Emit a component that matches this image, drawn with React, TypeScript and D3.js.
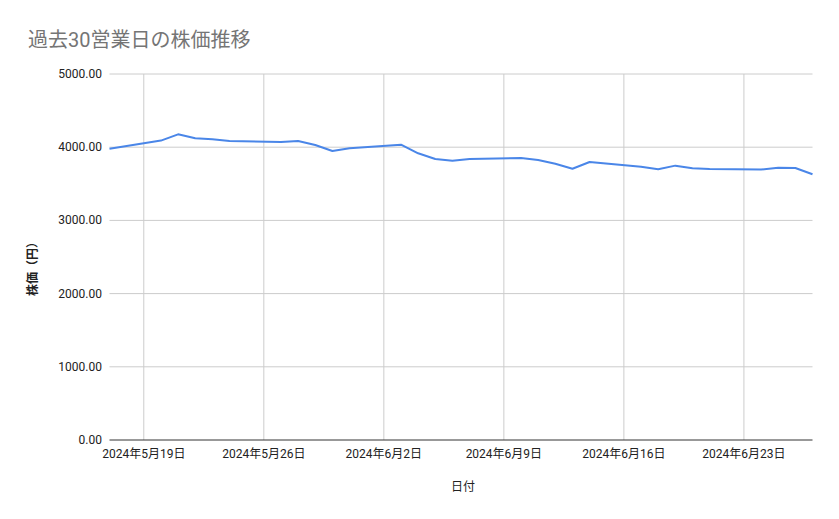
import React from "react";
import * as d3 from "d3";

const dates: string[] = [
  "2024-05-17", "2024-05-20", "2024-05-21", "2024-05-22", "2024-05-23", "2024-05-24",
  "2024-05-27", "2024-05-28", "2024-05-29", "2024-05-30", "2024-05-31",
  "2024-06-03", "2024-06-04", "2024-06-05", "2024-06-06", "2024-06-07",
  "2024-06-10", "2024-06-11", "2024-06-12", "2024-06-13", "2024-06-14",
  "2024-06-17", "2024-06-18", "2024-06-19", "2024-06-20", "2024-06-21",
  "2024-06-24", "2024-06-25", "2024-06-26", "2024-06-27",
];
const prices: number[] = [
  3980, 4090, 4176, 4121, 4108, 4085,
  4071, 4085, 4030, 3948, 3985,
  4035, 3917, 3839, 3816, 3840,
  3852, 3825, 3775, 3706, 3798,
  3734, 3698, 3748, 3712, 3702,
  3695, 3720, 3716, 3630,
];
const yTicks: number[] = [0, 1000, 2000, 3000, 4000, 5000];
const xTickDates: string[] = ["2024-05-19", "2024-05-26", "2024-06-02", "2024-06-09", "2024-06-16", "2024-06-23"];

const W = 839, H = 519;
const left = 109.5, right = 812.5, top = 74, bottom = 440;
const font = "Roboto, 'Noto Sans CJK JP', Arial, sans-serif";

export default function App() {
  const parse = d3.utcParse("%Y-%m-%d");
  const data = dates.map((d, i) => ({ date: parse(d)!, v: prices[i] }));
  const x = d3.scaleUtc().domain([parse(dates[0])!, parse(dates[dates.length - 1])!]).range([left, right]);
  const y = d3.scaleLinear().domain([0, 5000]).range([bottom, top]);
  const line = d3.line<{ date: Date; v: number }>().x((d) => x(d.date)).y((d) => y(d.v));
  const fmt = (d: Date) => `${d.getUTCFullYear()}年${d.getUTCMonth() + 1}月${d.getUTCDate()}日`;

  return (
    <svg width={W} height={H} style={{ position: "absolute", left: 0, top: 0, background: "#fff" }} fontFamily={font}>
      <rect width={W} height={H} fill="#fff" />
      <text x={28} y={47} fontSize={20} fill="#757575">過去30営業日の株価推移</text>
      {yTicks.map((t) => (
        <g key={t}>
          {t > 0 && <line x1={left} x2={right} y1={y(t)} y2={y(t)} stroke="#cccccc" strokeWidth={1} />}
          <text x={102} y={y(t) + 4} fontSize={12} fill="#222" textAnchor="end">{t.toFixed(2)}</text>
        </g>
      ))}
      {xTickDates.map((s) => {
        const d = parse(s)!;
        return (
          <g key={s}>
            <line x1={x(d)} x2={x(d)} y1={top} y2={bottom} stroke="#cccccc" strokeWidth={1} />
            <text x={x(d)} y={458} fontSize={12} fill="#222" textAnchor="middle">{fmt(d)}</text>
          </g>
        );
      })}
      <line x1={left} x2={right} y1={bottom} y2={bottom} stroke="#333" strokeWidth={1} />
      <path d={line(data)!} fill="none" stroke="#4a86e8" strokeWidth={2} strokeLinejoin="round" />
      <text x={463} y={491} fontSize={12} fill="#222" textAnchor="middle">日付</text>
      <text transform={`translate(37,${266}) rotate(-90)`} fontSize={12} fontWeight="bold" fill="#222" textAnchor="middle">株価（円）</text>
    </svg>
  );
}
